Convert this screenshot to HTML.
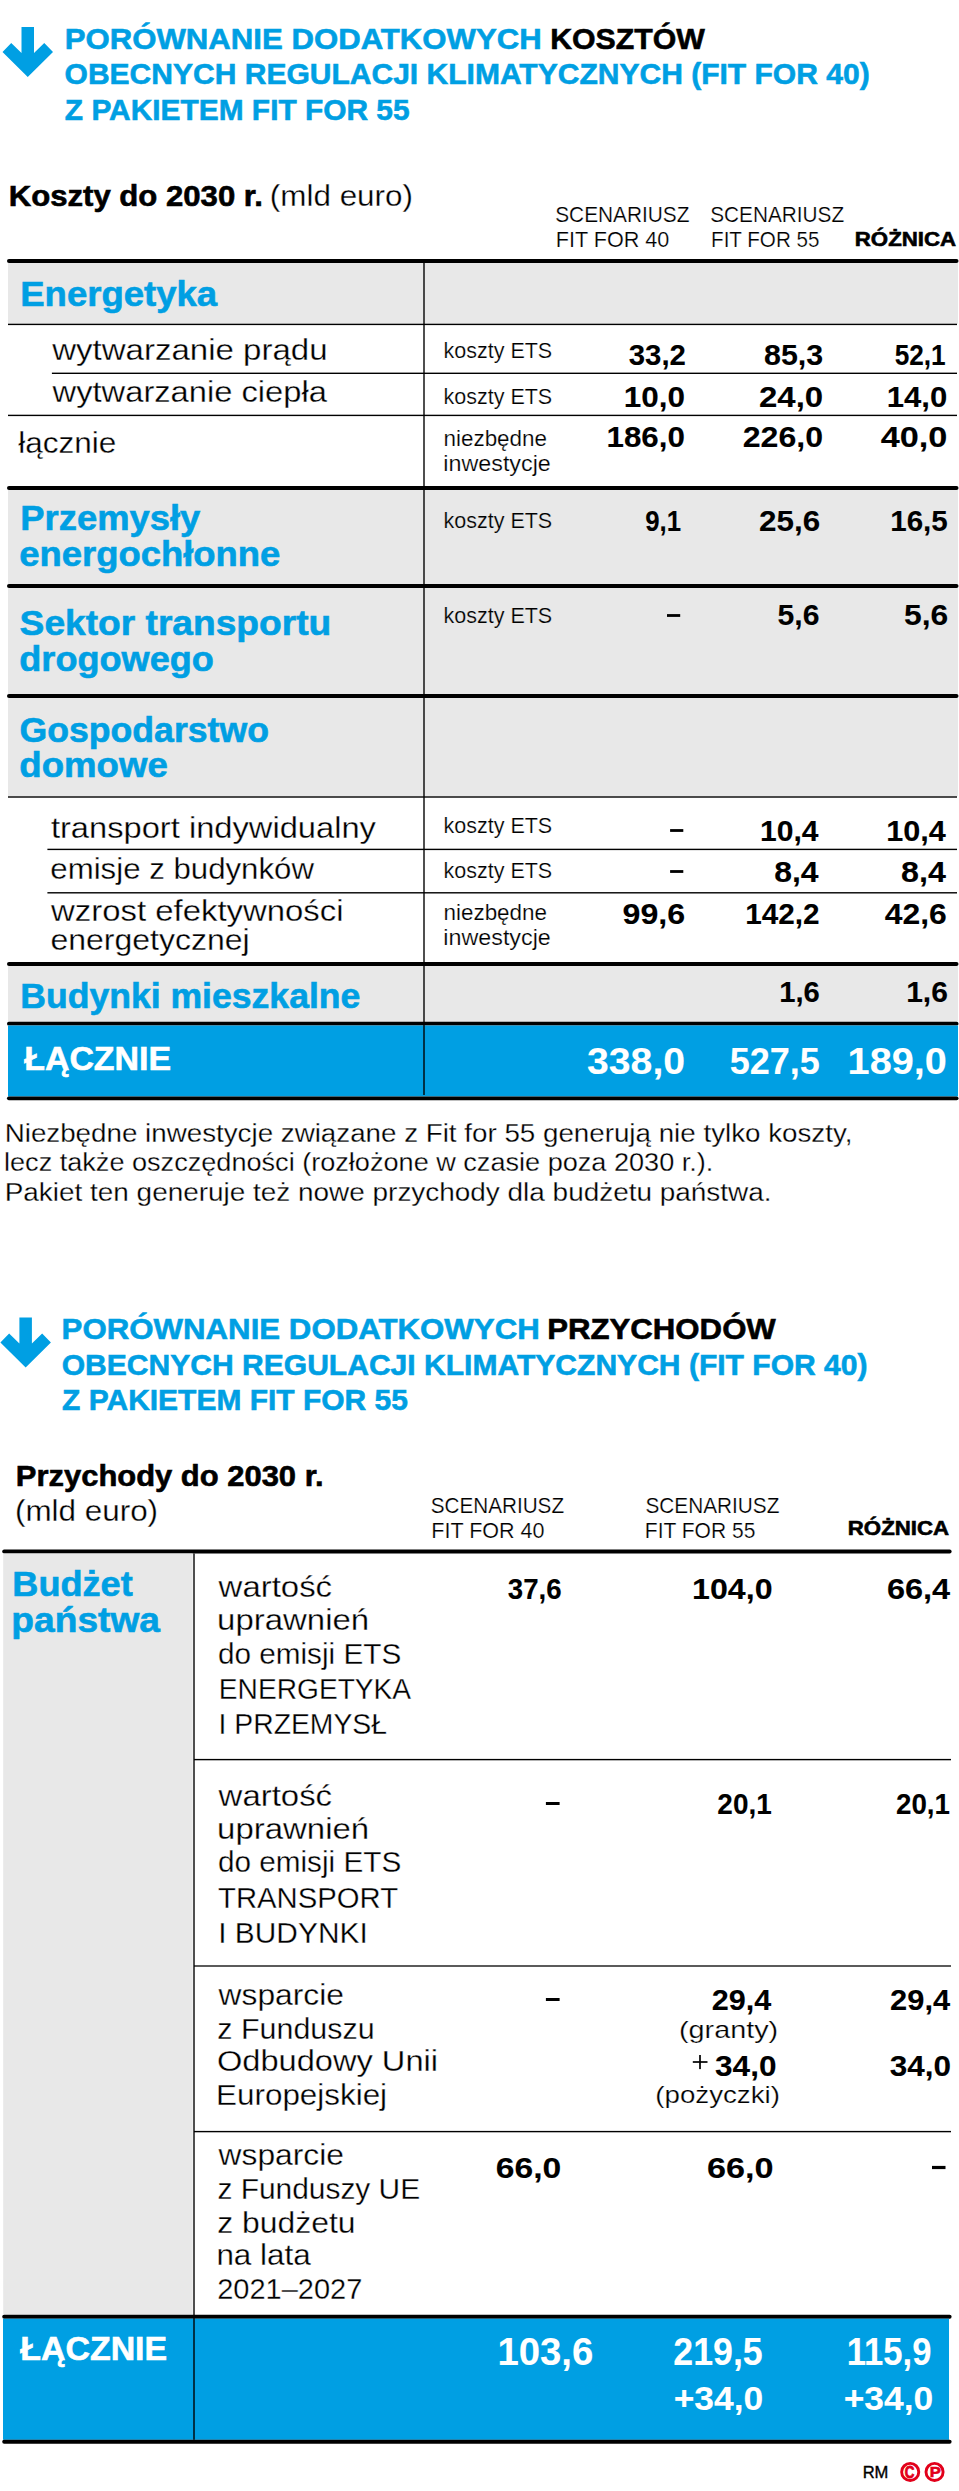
<!DOCTYPE html>
<html><head><meta charset="utf-8"><style>
html,body{margin:0;padding:0;background:#fff;}
svg{display:block;}
text{font-family:"Liberation Sans",sans-serif;white-space:pre;}
</style></head><body>
<svg width="959" height="2491" viewBox="0 0 959 2491">
<rect x="0" y="0" width="959" height="2491" fill="#fff"/>
<path d="M21.50,27.00 L34.00,27.00 L34.00,53.00 L44.25,43.00 L53.00,52.00 L27.75,77.00 L2.50,52.00 L11.25,43.00 L21.50,53.00 Z" fill="#009fe3"/>
<rect x="7" y="259.00" width="951.50" height="4" rx="2.00" fill="#000"/>
<rect x="8" y="263" width="950" height="60.8" fill="#e8e8e8"/>
<rect x="8" y="323.70" width="949.00" height="1.4" fill="#000"/>
<rect x="51.9" y="372.60" width="905.10" height="1.4" fill="#000"/>
<rect x="8" y="414.70" width="949.00" height="1.4" fill="#000"/>
<rect x="7" y="486.00" width="951.50" height="4" rx="2.00" fill="#000"/>
<rect x="8" y="490" width="950" height="94" fill="#e8e8e8"/>
<rect x="7" y="584.00" width="951.50" height="4" rx="2.00" fill="#000"/>
<rect x="8" y="588" width="950" height="106" fill="#e8e8e8"/>
<rect x="7" y="694.00" width="951.50" height="4" rx="2.00" fill="#000"/>
<rect x="8" y="698" width="950" height="98.3" fill="#e8e8e8"/>
<rect x="8" y="796.30" width="949.00" height="1.4" fill="#000"/>
<rect x="47.4" y="848.70" width="909.60" height="1.4" fill="#000"/>
<rect x="47.4" y="892.10" width="909.60" height="1.4" fill="#000"/>
<rect x="7" y="962.00" width="951.50" height="4" rx="2.00" fill="#000"/>
<rect x="8" y="966" width="950" height="56" fill="#e8e8e8"/>
<rect x="7" y="1021.80" width="951.50" height="3.8" rx="1.90" fill="#000"/>
<rect x="8" y="1025.5" width="950" height="71" fill="#009fe3"/>
<rect x="7" y="1096.45" width="951.50" height="3.7" rx="1.85" fill="#000"/>
<rect x="423.1" y="263" width="1.8" height="832" fill="#000" fill-opacity="0.77"/>
<rect x="667" y="614.10" width="13.200000000000045" height="2.8" fill="#000"/>
<rect x="670.1" y="829.10" width="13.199999999999932" height="2.8" fill="#000"/>
<rect x="670.1" y="870.10" width="13.199999999999932" height="2.8" fill="#000"/>
<path d="M19.40,1317.60 L31.90,1317.60 L31.90,1343.60 L42.15,1333.60 L50.90,1342.60 L25.65,1367.60 L0.40,1342.60 L9.15,1333.60 L19.40,1343.60 Z" fill="#009fe3"/>
<rect x="2.2" y="1549.50" width="949.40" height="4" rx="2.00" fill="#000"/>
<rect x="3.2" y="1553.5" width="189.5" height="761.2" fill="#e8e8e8"/>
<rect x="194" y="1758.90" width="757.00" height="1.4" fill="#000"/>
<rect x="194" y="1965.20" width="757.00" height="1.6" fill="#333"/>
<rect x="194" y="2130.90" width="757.00" height="1.4" fill="#000"/>
<rect x="2.2" y="2314.70" width="949.40" height="4" rx="2.00" fill="#000"/>
<rect x="3" y="2318.7" width="946" height="121.1" fill="#009fe3"/>
<rect x="193.1" y="1553.5" width="1.8" height="886.3" fill="#000" fill-opacity="0.77"/>
<rect x="2.2" y="2439.80" width="949.40" height="4" rx="2.00" fill="#000"/>
<rect x="545.9" y="1802.00" width="13.700000000000045" height="3" fill="#000"/>
<rect x="545.9" y="1998.00" width="13.700000000000045" height="3" fill="#000"/>
<rect x="692.8" y="2061.15" width="14.700000000000045" height="1.7" fill="#000"/>
<rect x="699.15" y="2055" width="1.7" height="14.1" fill="#000"/>
<rect x="932" y="2165.90" width="13.5" height="3.2" fill="#000"/>
<circle cx="910.2" cy="2471.9" r="8.55" fill="none" stroke="#e2001a" stroke-width="2.9"/>
<circle cx="934.55" cy="2471.9" r="8.55" fill="none" stroke="#e2001a" stroke-width="2.9"/>
<text x="64.72" y="48.90" font-size="30.3" font-weight="700" fill="#009fe3" stroke="#009fe3" stroke-width="0.6" textLength="477.03" lengthAdjust="spacingAndGlyphs">PORÓWNANIE DODATKOWYCH</text>
<text x="550.13" y="48.90" font-size="30.3" font-weight="700" fill="#000" stroke="#000" stroke-width="0.6" textLength="154.68" lengthAdjust="spacingAndGlyphs">KOSZTÓW</text>
<text x="64.55" y="84.00" font-size="30.3" font-weight="700" fill="#009fe3" stroke="#009fe3" stroke-width="0.6" textLength="805.09" lengthAdjust="spacingAndGlyphs">OBECNYCH REGULACJI KLIMATYCZNYCH (FIT FOR 40)</text>
<text x="64.85" y="119.70" font-size="30.3" font-weight="700" fill="#009fe3" stroke="#009fe3" stroke-width="0.6" textLength="344.76" lengthAdjust="spacingAndGlyphs">Z PAKIETEM FIT FOR 55</text>
<text x="8.72" y="205.80" font-size="30.3" font-weight="700" fill="#000" stroke="#000" stroke-width="0.6" textLength="254.19" lengthAdjust="spacingAndGlyphs">Koszty do 2030 r.</text>
<text x="269.87" y="205.80" font-size="30" font-weight="400" fill="#000" stroke="#fff" stroke-width="0.30" textLength="143.12" lengthAdjust="spacingAndGlyphs">(mld euro)</text>
<text x="555.21" y="221.90" font-size="21.3" font-weight="400" fill="#000" stroke="#fff" stroke-width="0.21" textLength="134.28" lengthAdjust="spacingAndGlyphs">SCENARIUSZ</text>
<text x="555.77" y="246.75" font-size="21.3" font-weight="400" fill="#000" stroke="#fff" stroke-width="0.21" textLength="113.59" lengthAdjust="spacingAndGlyphs">FIT FOR 40</text>
<text x="710.21" y="221.90" font-size="21.3" font-weight="400" fill="#000" stroke="#fff" stroke-width="0.21" textLength="133.93" lengthAdjust="spacingAndGlyphs">SCENARIUSZ</text>
<text x="711.05" y="246.75" font-size="21.3" font-weight="400" fill="#000" stroke="#fff" stroke-width="0.21" textLength="108.37" lengthAdjust="spacingAndGlyphs">FIT FOR 55</text>
<text x="854.74" y="245.50" font-size="20.5" font-weight="700" fill="#000" stroke="#000" stroke-width="0.6" textLength="101.42" lengthAdjust="spacingAndGlyphs">RÓŻNICA</text>
<text x="20.24" y="305.70" font-size="35" font-weight="700" fill="#009fe3" stroke="#009fe3" stroke-width="0.6" textLength="196.94" lengthAdjust="spacingAndGlyphs">Energetyka</text>
<text x="52.25" y="359.70" font-size="30" font-weight="400" fill="#000" stroke="#fff" stroke-width="0.30" textLength="275.26" lengthAdjust="spacingAndGlyphs">wytwarzanie prądu</text>
<text x="52.60" y="401.60" font-size="30" font-weight="400" fill="#000" stroke="#fff" stroke-width="0.30" textLength="274.24" lengthAdjust="spacingAndGlyphs">wytwarzanie ciepła</text>
<text x="18.28" y="452.75" font-size="30" font-weight="400" fill="#000" stroke="#fff" stroke-width="0.30" textLength="98.06" lengthAdjust="spacingAndGlyphs">łącznie</text>
<text x="443.50" y="358.00" font-size="21.3" font-weight="400" fill="#000" stroke="#fff" stroke-width="0.21" textLength="108.71" lengthAdjust="spacingAndGlyphs">koszty ETS</text>
<text x="628.81" y="365.00" font-size="29.6" font-weight="700" fill="#000" stroke="#000" stroke-width="0.1" textLength="57.15" lengthAdjust="spacingAndGlyphs">33,2</text>
<text x="764.09" y="365.00" font-size="29.6" font-weight="700" fill="#000" stroke="#000" stroke-width="0.1" textLength="59.11" lengthAdjust="spacingAndGlyphs">85,3</text>
<text x="894.71" y="365.00" font-size="29.6" font-weight="700" fill="#000" stroke="#000" stroke-width="0.1" textLength="50.97" lengthAdjust="spacingAndGlyphs">52,1</text>
<text x="443.50" y="403.70" font-size="21.3" font-weight="400" fill="#000" stroke="#fff" stroke-width="0.21" textLength="108.71" lengthAdjust="spacingAndGlyphs">koszty ETS</text>
<text x="623.81" y="406.60" font-size="29.6" font-weight="700" fill="#000" stroke="#000" stroke-width="0.1" textLength="61.22" lengthAdjust="spacingAndGlyphs">10,0</text>
<text x="759.01" y="406.60" font-size="29.6" font-weight="700" fill="#000" stroke="#000" stroke-width="0.1" textLength="64.18" lengthAdjust="spacingAndGlyphs">24,0</text>
<text x="886.74" y="406.60" font-size="29.6" font-weight="700" fill="#000" stroke="#000" stroke-width="0.1" textLength="60.49" lengthAdjust="spacingAndGlyphs">14,0</text>
<text x="443.43" y="445.60" font-size="21.3" font-weight="400" fill="#000" stroke="#fff" stroke-width="0.21" textLength="103.68" lengthAdjust="spacingAndGlyphs">niezbędne</text>
<text x="443.37" y="470.60" font-size="21.3" font-weight="400" fill="#000" stroke="#fff" stroke-width="0.21" textLength="107.42" lengthAdjust="spacingAndGlyphs">inwestycje</text>
<text x="606.52" y="447.40" font-size="29.6" font-weight="700" fill="#000" stroke="#000" stroke-width="0.1" textLength="78.39" lengthAdjust="spacingAndGlyphs">186,0</text>
<text x="742.74" y="447.40" font-size="29.6" font-weight="700" fill="#000" stroke="#000" stroke-width="0.1" textLength="80.30" lengthAdjust="spacingAndGlyphs">226,0</text>
<text x="880.66" y="447.40" font-size="29.6" font-weight="700" fill="#000" stroke="#000" stroke-width="0.1" textLength="66.68" lengthAdjust="spacingAndGlyphs">40,0</text>
<text x="20.35" y="530.00" font-size="35" font-weight="700" fill="#009fe3" stroke="#009fe3" stroke-width="0.6" textLength="179.92" lengthAdjust="spacingAndGlyphs">Przemysły</text>
<text x="19.29" y="565.70" font-size="35" font-weight="700" fill="#009fe3" stroke="#009fe3" stroke-width="0.6" textLength="261.05" lengthAdjust="spacingAndGlyphs">energochłonne</text>
<text x="443.50" y="527.80" font-size="21.3" font-weight="400" fill="#000" stroke="#e8e8e8" stroke-width="0.21" textLength="108.71" lengthAdjust="spacingAndGlyphs">koszty ETS</text>
<text x="645.13" y="530.80" font-size="29.6" font-weight="700" fill="#000" stroke="#000" stroke-width="0.1" textLength="35.85" lengthAdjust="spacingAndGlyphs">9,1</text>
<text x="759.06" y="530.80" font-size="29.6" font-weight="700" fill="#000" stroke="#000" stroke-width="0.1" textLength="61.07" lengthAdjust="spacingAndGlyphs">25,6</text>
<text x="890.23" y="530.80" font-size="29.6" font-weight="700" fill="#000" stroke="#000" stroke-width="0.1" textLength="57.55" lengthAdjust="spacingAndGlyphs">16,5</text>
<text x="19.64" y="634.50" font-size="35" font-weight="700" fill="#009fe3" stroke="#009fe3" stroke-width="0.6" textLength="311.58" lengthAdjust="spacingAndGlyphs">Sektor transportu</text>
<text x="19.31" y="670.80" font-size="35" font-weight="700" fill="#009fe3" stroke="#009fe3" stroke-width="0.6" textLength="194.56" lengthAdjust="spacingAndGlyphs">drogowego</text>
<text x="443.50" y="622.80" font-size="21.3" font-weight="400" fill="#000" stroke="#e8e8e8" stroke-width="0.21" textLength="108.71" lengthAdjust="spacingAndGlyphs">koszty ETS</text>
<text x="777.50" y="625.30" font-size="29.6" font-weight="700" fill="#000" stroke="#000" stroke-width="0.1" textLength="41.91" lengthAdjust="spacingAndGlyphs">5,6</text>
<text x="904.05" y="625.30" font-size="29.6" font-weight="700" fill="#000" stroke="#000" stroke-width="0.1" textLength="44.23" lengthAdjust="spacingAndGlyphs">5,6</text>
<text x="19.58" y="741.50" font-size="35" font-weight="700" fill="#009fe3" stroke="#009fe3" stroke-width="0.6" textLength="249.35" lengthAdjust="spacingAndGlyphs">Gospodarstwo</text>
<text x="19.29" y="776.80" font-size="35" font-weight="700" fill="#009fe3" stroke="#009fe3" stroke-width="0.6" textLength="148.51" lengthAdjust="spacingAndGlyphs">domowe</text>
<text x="50.92" y="837.80" font-size="30" font-weight="400" fill="#000" stroke="#fff" stroke-width="0.30" textLength="325.05" lengthAdjust="spacingAndGlyphs">transport indywidualny</text>
<text x="50.35" y="878.80" font-size="30" font-weight="400" fill="#000" stroke="#fff" stroke-width="0.30" textLength="263.58" lengthAdjust="spacingAndGlyphs">emisje z budynków</text>
<text x="51.10" y="920.70" font-size="30" font-weight="400" fill="#000" stroke="#fff" stroke-width="0.30" textLength="292.41" lengthAdjust="spacingAndGlyphs">wzrost efektywności</text>
<text x="50.47" y="949.70" font-size="30" font-weight="400" fill="#000" stroke="#fff" stroke-width="0.30" textLength="199.13" lengthAdjust="spacingAndGlyphs">energetycznej</text>
<text x="443.50" y="832.90" font-size="21.3" font-weight="400" fill="#000" stroke="#fff" stroke-width="0.21" textLength="108.71" lengthAdjust="spacingAndGlyphs">koszty ETS</text>
<text x="760.00" y="840.80" font-size="29.6" font-weight="700" fill="#000" stroke="#000" stroke-width="0.1" textLength="58.49" lengthAdjust="spacingAndGlyphs">10,4</text>
<text x="886.16" y="840.80" font-size="29.6" font-weight="700" fill="#000" stroke="#000" stroke-width="0.1" textLength="59.63" lengthAdjust="spacingAndGlyphs">10,4</text>
<text x="443.50" y="877.70" font-size="21.3" font-weight="400" fill="#000" stroke="#fff" stroke-width="0.21" textLength="108.71" lengthAdjust="spacingAndGlyphs">koszty ETS</text>
<text x="774.24" y="882.00" font-size="29.6" font-weight="700" fill="#000" stroke="#000" stroke-width="0.1" textLength="44.38" lengthAdjust="spacingAndGlyphs">8,4</text>
<text x="901.03" y="882.00" font-size="29.6" font-weight="700" fill="#000" stroke="#000" stroke-width="0.1" textLength="44.89" lengthAdjust="spacingAndGlyphs">8,4</text>
<text x="443.43" y="919.90" font-size="21.3" font-weight="400" fill="#000" stroke="#fff" stroke-width="0.21" textLength="103.68" lengthAdjust="spacingAndGlyphs">niezbędne</text>
<text x="443.37" y="944.90" font-size="21.3" font-weight="400" fill="#000" stroke="#fff" stroke-width="0.21" textLength="107.42" lengthAdjust="spacingAndGlyphs">inwestycje</text>
<text x="622.53" y="924.00" font-size="29.6" font-weight="700" fill="#000" stroke="#000" stroke-width="0.1" textLength="62.63" lengthAdjust="spacingAndGlyphs">99,6</text>
<text x="745.22" y="924.00" font-size="29.6" font-weight="700" fill="#000" stroke="#000" stroke-width="0.1" textLength="74.34" lengthAdjust="spacingAndGlyphs">142,2</text>
<text x="884.68" y="924.00" font-size="29.6" font-weight="700" fill="#000" stroke="#000" stroke-width="0.1" textLength="62.07" lengthAdjust="spacingAndGlyphs">42,6</text>
<text x="20.26" y="1008.00" font-size="35" font-weight="700" fill="#009fe3" stroke="#009fe3" stroke-width="0.6" textLength="340.11" lengthAdjust="spacingAndGlyphs">Budynki mieszkalne</text>
<text x="779.15" y="1001.90" font-size="29.6" font-weight="700" fill="#000" stroke="#000" stroke-width="0.1" textLength="40.62" lengthAdjust="spacingAndGlyphs">1,6</text>
<text x="906.20" y="1001.90" font-size="29.6" font-weight="700" fill="#000" stroke="#000" stroke-width="0.1" textLength="41.70" lengthAdjust="spacingAndGlyphs">1,6</text>
<text x="24.20" y="1069.70" font-size="34" font-weight="700" fill="#fff" stroke="#fff" stroke-width="0.6" textLength="146.92" lengthAdjust="spacingAndGlyphs">ŁĄCZNIE</text>
<text x="587.02" y="1074.40" font-size="37.5" font-weight="700" fill="#fff" stroke="#fff" stroke-width="0.1" textLength="98.04" lengthAdjust="spacingAndGlyphs">338,0</text>
<text x="729.72" y="1074.40" font-size="37.5" font-weight="700" fill="#fff" stroke="#fff" stroke-width="0.1" textLength="90.08" lengthAdjust="spacingAndGlyphs">527,5</text>
<text x="847.62" y="1074.40" font-size="37.5" font-weight="700" fill="#fff" stroke="#fff" stroke-width="0.1" textLength="99.26" lengthAdjust="spacingAndGlyphs">189,0</text>
<text x="4.68" y="1141.80" font-size="26" font-weight="400" fill="#000" stroke="#fff" stroke-width="0.26" textLength="847.82" lengthAdjust="spacingAndGlyphs">Niezbędne inwestycje związane z Fit for 55 generują nie tylko koszty,</text>
<text x="4.00" y="1170.80" font-size="26" font-weight="400" fill="#000" stroke="#fff" stroke-width="0.26" textLength="709.37" lengthAdjust="spacingAndGlyphs">lecz także oszczędności (rozłożone w czasie poza 2030 r.).</text>
<text x="4.67" y="1200.80" font-size="26" font-weight="400" fill="#000" stroke="#fff" stroke-width="0.26" textLength="766.85" lengthAdjust="spacingAndGlyphs">Pakiet ten generuje też nowe przychody dla budżetu państwa.</text>
<text x="61.61" y="1339.00" font-size="30.3" font-weight="700" fill="#009fe3" stroke="#009fe3" stroke-width="0.6" textLength="478.14" lengthAdjust="spacingAndGlyphs">PORÓWNANIE DODATKOWYCH</text>
<text x="547.22" y="1339.00" font-size="30.3" font-weight="700" fill="#000" stroke="#000" stroke-width="0.6" textLength="228.58" lengthAdjust="spacingAndGlyphs">PRZYCHODÓW</text>
<text x="61.70" y="1374.80" font-size="30.3" font-weight="700" fill="#009fe3" stroke="#009fe3" stroke-width="0.6" textLength="805.84" lengthAdjust="spacingAndGlyphs">OBECNYCH REGULACJI KLIMATYCZNYCH (FIT FOR 40)</text>
<text x="62.10" y="1409.70" font-size="30.3" font-weight="700" fill="#009fe3" stroke="#009fe3" stroke-width="0.6" textLength="345.81" lengthAdjust="spacingAndGlyphs">Z PAKIETEM FIT FOR 55</text>
<text x="15.83" y="1485.75" font-size="30.3" font-weight="700" fill="#000" stroke="#000" stroke-width="0.6" textLength="307.77" lengthAdjust="spacingAndGlyphs">Przychody do 2030 r.</text>
<text x="15.02" y="1520.60" font-size="30" font-weight="400" fill="#000" stroke="#fff" stroke-width="0.30" textLength="143.06" lengthAdjust="spacingAndGlyphs">(mld euro)</text>
<text x="430.72" y="1512.80" font-size="21.3" font-weight="400" fill="#000" stroke="#fff" stroke-width="0.21" textLength="133.32" lengthAdjust="spacingAndGlyphs">SCENARIUSZ</text>
<text x="431.28" y="1537.80" font-size="21.3" font-weight="400" fill="#000" stroke="#fff" stroke-width="0.21" textLength="113.28" lengthAdjust="spacingAndGlyphs">FIT FOR 40</text>
<text x="645.46" y="1512.80" font-size="21.3" font-weight="400" fill="#000" stroke="#fff" stroke-width="0.21" textLength="133.88" lengthAdjust="spacingAndGlyphs">SCENARIUSZ</text>
<text x="644.82" y="1537.80" font-size="21.3" font-weight="400" fill="#000" stroke="#fff" stroke-width="0.21" textLength="110.52" lengthAdjust="spacingAndGlyphs">FIT FOR 55</text>
<text x="847.84" y="1535.40" font-size="20.5" font-weight="700" fill="#000" stroke="#000" stroke-width="0.6" textLength="101.21" lengthAdjust="spacingAndGlyphs">RÓŻNICA</text>
<text x="12.37" y="1595.90" font-size="35" font-weight="700" fill="#009fe3" stroke="#009fe3" stroke-width="0.6" textLength="120.29" lengthAdjust="spacingAndGlyphs">Budżet</text>
<text x="11.30" y="1631.90" font-size="35" font-weight="700" fill="#009fe3" stroke="#009fe3" stroke-width="0.6" textLength="148.73" lengthAdjust="spacingAndGlyphs">państwa</text>
<text x="218.60" y="1596.90" font-size="30" font-weight="400" fill="#000" stroke="#fff" stroke-width="0.30" textLength="113.48" lengthAdjust="spacingAndGlyphs">wartość</text>
<text x="217.12" y="1629.70" font-size="30" font-weight="400" fill="#000" stroke="#fff" stroke-width="0.30" textLength="151.98" lengthAdjust="spacingAndGlyphs">uprawnień</text>
<text x="217.91" y="1663.60" font-size="30" font-weight="400" fill="#000" stroke="#fff" stroke-width="0.30" textLength="183.32" lengthAdjust="spacingAndGlyphs">do emisji ETS</text>
<text x="218.85" y="1698.90" font-size="30" font-weight="400" fill="#000" stroke="#fff" stroke-width="0.30" textLength="192.30" lengthAdjust="spacingAndGlyphs">ENERGETYKA</text>
<text x="218.55" y="1733.90" font-size="30" font-weight="400" fill="#000" stroke="#fff" stroke-width="0.30" textLength="168.46" lengthAdjust="spacingAndGlyphs">I PRZEMYSŁ</text>
<text x="507.85" y="1598.60" font-size="29.6" font-weight="700" fill="#000" stroke="#000" stroke-width="0.1" textLength="53.85" lengthAdjust="spacingAndGlyphs">37,6</text>
<text x="692.07" y="1598.60" font-size="29.6" font-weight="700" fill="#000" stroke="#000" stroke-width="0.1" textLength="80.46" lengthAdjust="spacingAndGlyphs">104,0</text>
<text x="886.90" y="1598.60" font-size="29.6" font-weight="700" fill="#000" stroke="#000" stroke-width="0.1" textLength="63.30" lengthAdjust="spacingAndGlyphs">66,4</text>
<text x="218.60" y="1805.90" font-size="30" font-weight="400" fill="#000" stroke="#fff" stroke-width="0.30" textLength="113.48" lengthAdjust="spacingAndGlyphs">wartość</text>
<text x="217.12" y="1838.80" font-size="30" font-weight="400" fill="#000" stroke="#fff" stroke-width="0.30" textLength="151.98" lengthAdjust="spacingAndGlyphs">uprawnień</text>
<text x="217.91" y="1871.70" font-size="30" font-weight="400" fill="#000" stroke="#fff" stroke-width="0.30" textLength="183.32" lengthAdjust="spacingAndGlyphs">do emisji ETS</text>
<text x="218.01" y="1907.70" font-size="30" font-weight="400" fill="#000" stroke="#fff" stroke-width="0.30" textLength="180.04" lengthAdjust="spacingAndGlyphs">TRANSPORT</text>
<text x="218.21" y="1942.70" font-size="30" font-weight="400" fill="#000" stroke="#fff" stroke-width="0.30" textLength="149.51" lengthAdjust="spacingAndGlyphs">I BUDYNKI</text>
<text x="717.36" y="1813.60" font-size="29.6" font-weight="700" fill="#000" stroke="#000" stroke-width="0.1" textLength="54.37" lengthAdjust="spacingAndGlyphs">20,1</text>
<text x="895.97" y="1813.70" font-size="29.6" font-weight="700" fill="#000" stroke="#000" stroke-width="0.1" textLength="53.96" lengthAdjust="spacingAndGlyphs">20,1</text>
<text x="218.60" y="2005.00" font-size="30" font-weight="400" fill="#000" stroke="#fff" stroke-width="0.30" textLength="125.35" lengthAdjust="spacingAndGlyphs">wsparcie</text>
<text x="217.38" y="2038.50" font-size="30" font-weight="400" fill="#000" stroke="#fff" stroke-width="0.30" textLength="157.22" lengthAdjust="spacingAndGlyphs">z Funduszu</text>
<text x="216.97" y="2071.00" font-size="30" font-weight="400" fill="#000" stroke="#fff" stroke-width="0.30" textLength="221.02" lengthAdjust="spacingAndGlyphs">Odbudowy Unii</text>
<text x="216.09" y="2105.00" font-size="30" font-weight="400" fill="#000" stroke="#fff" stroke-width="0.30" textLength="171.02" lengthAdjust="spacingAndGlyphs">Europejskiej</text>
<text x="711.88" y="2009.80" font-size="29.6" font-weight="700" fill="#000" stroke="#000" stroke-width="0.1" textLength="59.50" lengthAdjust="spacingAndGlyphs">29,4</text>
<text x="678.97" y="2037.60" font-size="24" font-weight="400" fill="#000" stroke="#fff" stroke-width="0.24" textLength="99.20" lengthAdjust="spacingAndGlyphs">(granty)</text>
<text x="715.07" y="2075.50" font-size="29.6" font-weight="700" fill="#000" stroke="#000" stroke-width="0.1" textLength="61.37" lengthAdjust="spacingAndGlyphs">34,0</text>
<text x="655.34" y="2103.20" font-size="24" font-weight="400" fill="#000" stroke="#fff" stroke-width="0.24" textLength="124.53" lengthAdjust="spacingAndGlyphs">(pożyczki)</text>
<text x="890.07" y="2009.80" font-size="29.6" font-weight="700" fill="#000" stroke="#000" stroke-width="0.1" textLength="60.11" lengthAdjust="spacingAndGlyphs">29,4</text>
<text x="889.87" y="2075.50" font-size="29.6" font-weight="700" fill="#000" stroke="#000" stroke-width="0.1" textLength="61.27" lengthAdjust="spacingAndGlyphs">34,0</text>
<text x="218.60" y="2165.00" font-size="30" font-weight="400" fill="#000" stroke="#fff" stroke-width="0.30" textLength="125.35" lengthAdjust="spacingAndGlyphs">wsparcie</text>
<text x="217.40" y="2199.00" font-size="30" font-weight="400" fill="#000" stroke="#fff" stroke-width="0.30" textLength="202.79" lengthAdjust="spacingAndGlyphs">z Funduszy UE</text>
<text x="217.32" y="2232.50" font-size="30" font-weight="400" fill="#000" stroke="#fff" stroke-width="0.30" textLength="138.28" lengthAdjust="spacingAndGlyphs">z budżetu</text>
<text x="216.40" y="2265.00" font-size="30" font-weight="400" fill="#000" stroke="#fff" stroke-width="0.30" textLength="94.35" lengthAdjust="spacingAndGlyphs">na lata</text>
<text x="217.15" y="2299.00" font-size="30" font-weight="400" fill="#000" stroke="#fff" stroke-width="0.30" textLength="145.15" lengthAdjust="spacingAndGlyphs">2021–2027</text>
<text x="495.75" y="2177.60" font-size="29.6" font-weight="700" fill="#000" stroke="#000" stroke-width="0.1" textLength="65.46" lengthAdjust="spacingAndGlyphs">66,0</text>
<text x="707.03" y="2177.60" font-size="29.6" font-weight="700" fill="#000" stroke="#000" stroke-width="0.1" textLength="66.60" lengthAdjust="spacingAndGlyphs">66,0</text>
<text x="20.30" y="2360.10" font-size="33.4" font-weight="700" fill="#fff" stroke="#fff" stroke-width="0.6" textLength="146.82" lengthAdjust="spacingAndGlyphs">ŁĄCZNIE</text>
<text x="497.40" y="2365.10" font-size="38.5" font-weight="700" fill="#fff" stroke="#fff" stroke-width="0.1" textLength="95.93" lengthAdjust="spacingAndGlyphs">103,6</text>
<text x="673.33" y="2365.10" font-size="38.5" font-weight="700" fill="#fff" stroke="#fff" stroke-width="0.1" textLength="89.36" lengthAdjust="spacingAndGlyphs">219,5</text>
<text x="846.72" y="2365.10" font-size="38.5" font-weight="700" fill="#fff" stroke="#fff" stroke-width="0.1" textLength="84.76" lengthAdjust="spacingAndGlyphs">115,9</text>
<text x="673.68" y="2409.90" font-size="33" font-weight="700" fill="#fff" stroke="#fff" stroke-width="0.1" textLength="89.64" lengthAdjust="spacingAndGlyphs">+34,0</text>
<text x="843.68" y="2409.90" font-size="33" font-weight="700" fill="#fff" stroke="#fff" stroke-width="0.1" textLength="89.64" lengthAdjust="spacingAndGlyphs">+34,0</text>
<text x="862.68" y="2477.90" font-size="16" font-weight="400" fill="#000" stroke="#000" stroke-width="0.35" textLength="25.73" lengthAdjust="spacingAndGlyphs">RM</text>
<text x="904.66" y="2477.60" font-size="16.2" font-weight="700" fill="#e2001a" stroke="#e2001a" stroke-width="0.8" textLength="9.67" lengthAdjust="spacingAndGlyphs">C</text>
<text x="929.84" y="2476.80" font-size="15.2" font-weight="700" fill="#e2001a" stroke="#e2001a" stroke-width="0.6" textLength="11.08" lengthAdjust="spacingAndGlyphs">P</text>
</svg>
</body></html>
